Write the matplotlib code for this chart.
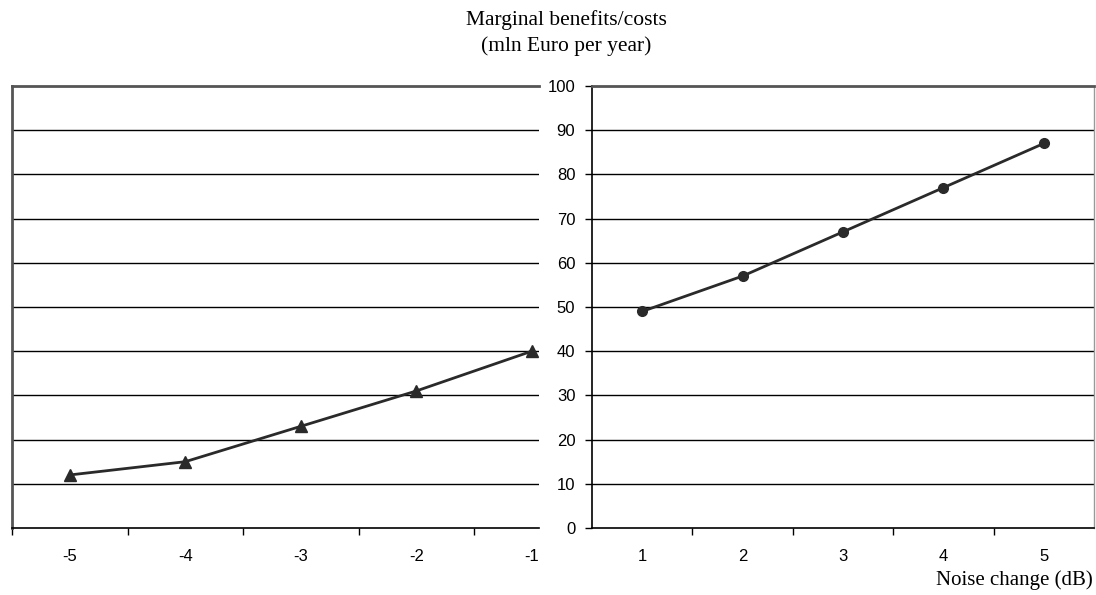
import numpy as np
from matplotlib import pyplot as plt

# values
neg_x = [-5, -4, -3, -2, -1]
neg_y = [12, 15, 23, 31, 40]
pos_x = [1, 2, 3, 4, 5]
pos_y = [49, 57, 67, 77, 87]
y_ticks = list(range(0, 101, 10))

W, H = 1096, 595
fig = plt.figure(figsize=(W / 100, H / 100), dpi=100)

def frac(x0, x1, ytop, ybot):
    return [x0 / W, (H - ybot) / H, (x1 - x0) / W, (ybot - ytop) / H]

axL = fig.add_axes(frac(12, 539, 86, 528))
axR = fig.add_axes(frac(592, 1094, 86, 528))

line_col = '#2a2a2a'
border_col = '#555555'
tick_size = 12

# left chart (negative changes)
step = 115.5
axL.set_xlim(-5.5, -5.5 + (539 - 12) / step)
axL.set_ylim(0, 100)
axL.plot(neg_x, neg_y, color=line_col, lw=2, marker='^', ms=8, zorder=3)
for v in y_ticks[1:-1]:
    axL.axhline(v, color='black', lw=1, zorder=1)
axL.set_xticks(np.arange(-5.5, -1.0, 1.0))
axL.set_xticklabels([])
axL.set_xticks(neg_x, minor=True)
axL.set_xticklabels([str(v) for v in neg_x], minor=True)
axL.tick_params(axis='x', which='major', direction='out', length=5, width=1)
axL.tick_params(axis='x', which='minor', length=0, pad=15, labelsize=tick_size)
axL.set_yticks([])
axL.spines['right'].set_visible(False)
axL.spines['top'].set_color(border_col)
axL.spines['top'].set_linewidth(2)
axL.spines['left'].set_color(border_col)
axL.spines['left'].set_linewidth(2)
axL.spines['bottom'].set_linewidth(1.2)

# right chart (positive changes)
axR.set_xlim(0.5, 5.5)
axR.set_ylim(0, 100)
axR.plot(pos_x, pos_y, color=line_col, lw=2, marker='o', ms=7, zorder=3)
for v in y_ticks[1:-1]:
    axR.axhline(v, color='black', lw=1, zorder=1)
axR.set_xticks(np.arange(1.5, 5.0, 1.0))
axR.set_xticklabels([])
axR.set_xticks(pos_x, minor=True)
axR.set_xticklabels([str(v) for v in pos_x], minor=True)
axR.tick_params(axis='x', which='major', direction='out', length=5, width=1)
axR.tick_params(axis='x', which='minor', length=0, pad=15, labelsize=tick_size)
axR.set_yticks(y_ticks)
axR.tick_params(axis='y', direction='out', length=5, width=1, pad=7, labelsize=tick_size)
axR.spines['top'].set_color(border_col)
axR.spines['top'].set_linewidth(2)
axR.spines['right'].set_color('#999999')
axR.spines['right'].set_linewidth(1)
axR.spines['left'].set_linewidth(1.2)
axR.spines['bottom'].set_linewidth(1.2)

for ax in (axL, axR):
    for lab in ax.get_xticklabels(minor=True) + ax.get_yticklabels():
        lab.set_family('Liberation Sans')

fig.text(566 / W, 1 - 20 / H, 'Marginal benefits/costs', ha='center', va='center',
         family='Liberation Serif', fontsize=15.5)
fig.text(566 / W, 1 - 46 / H, '(mln Euro per year)', ha='center', va='center',
         family='Liberation Serif', fontsize=15.5)
fig.text(1093 / W, 1 - 580 / H, 'Noise change (dB)', ha='right', va='center',
         family='Liberation Serif', fontsize=15)

fig.savefig('out.png', dpi=100)
